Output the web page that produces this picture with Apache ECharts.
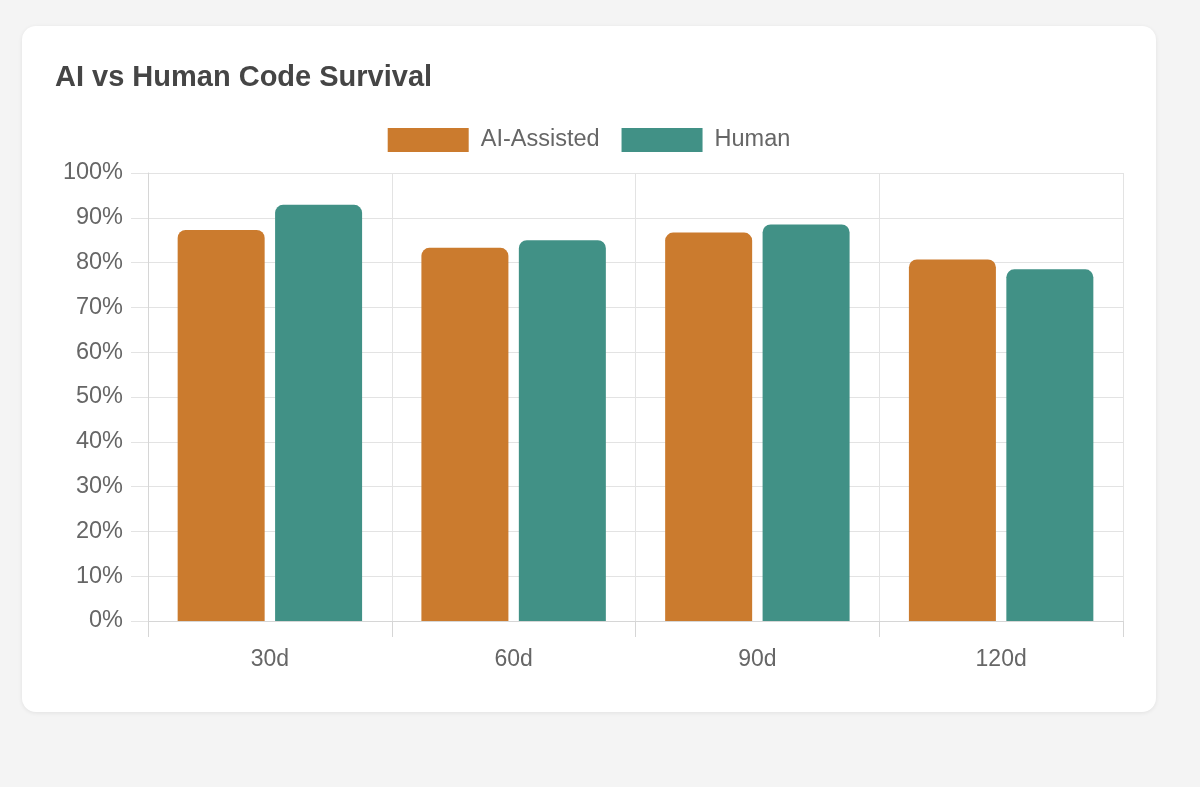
<!DOCTYPE html>
<html>
<head>
<meta charset="utf-8">
<script src="https://cdn.jsdelivr.net/npm/echarts@6/dist/echarts.min.js"></script>
<style>
  html, body { margin: 0; padding: 0; background: #f4f4f4; }
  #card {
    position: absolute; left: 22px; top: 26px; width: 1134px; height: 686px;
    background: #fff; border-radius: 14px;
    box-shadow: 0 1px 4px rgba(0,0,0,0.08);
  }
  #chart { width: 1134px; height: 686px; }
</style>
</head>
<body>
<div id="card"><div id="chart"></div></div>
<script>
  // data
  var periods = ['30d', '60d', '90d', '120d'];
  var aiAssisted = [87.3, 83.3, 86.7, 80.7];
  var human = [92.9, 85.0, 88.5, 78.5];

  var font = '"Liberation Sans", Arial, Helvetica, sans-serif';
  var chart = echarts.init(document.getElementById('chart'));
  var option = {
    animation: false,
    textStyle: { fontFamily: font },
    title: {
      text: 'AI vs Human Code Survival',
      left: 28, top: 32,
      textStyle: { fontSize: 29, fontWeight: 'bold', color: '#454545', fontFamily: font }
    },
    legend: {
      top: 97, left: 'center',
      itemWidth: 81, itemHeight: 24, itemGap: 22,
      icon: 'rect',
      textStyle: { fontSize: 23.5, color: '#666', padding: [0, 0, 0, 7] }
    },
    grid: { left: 126, right: 33, top: 147, bottom: 91, containLabel: false },
    xAxis: {
      type: 'category',
      data: periods,
      axisLine: { show: true, lineStyle: { color: '#d6d6d6' } },
      axisTick: { show: true, length: 16, lineStyle: { color: '#d6d6d6' } },
      splitLine: { show: true, lineStyle: { color: '#e3e3e3' } },
      axisLabel: { fontSize: 23, color: '#666', margin: 27 }
    },
    yAxis: {
      type: 'value',
      min: 0, max: 100, interval: 10,
      axisLine: { show: true, lineStyle: { color: '#d6d6d6' } },
      axisTick: { show: true, length: 17, lineStyle: { color: '#e3e3e3' } },
      splitLine: { show: true, lineStyle: { color: '#e3e3e3' } },
      axisLabel: { fontSize: 23.5, color: '#666', margin: 25, formatter: '{value}%' }
    },
    series: [
      {
        name: 'AI-Assisted', type: 'bar', data: aiAssisted,
        barWidth: 87, barGap: '12%',
        itemStyle: { color: '#cb7b2e', borderRadius: [8, 8, 0, 0] }
      },
      {
        name: 'Human', type: 'bar', data: human,
        barWidth: 87,
        itemStyle: { color: '#419186', borderRadius: [8, 8, 0, 0] }
      }
    ]
  };
  chart.setOption(option);
</script>
</body>
</html>
